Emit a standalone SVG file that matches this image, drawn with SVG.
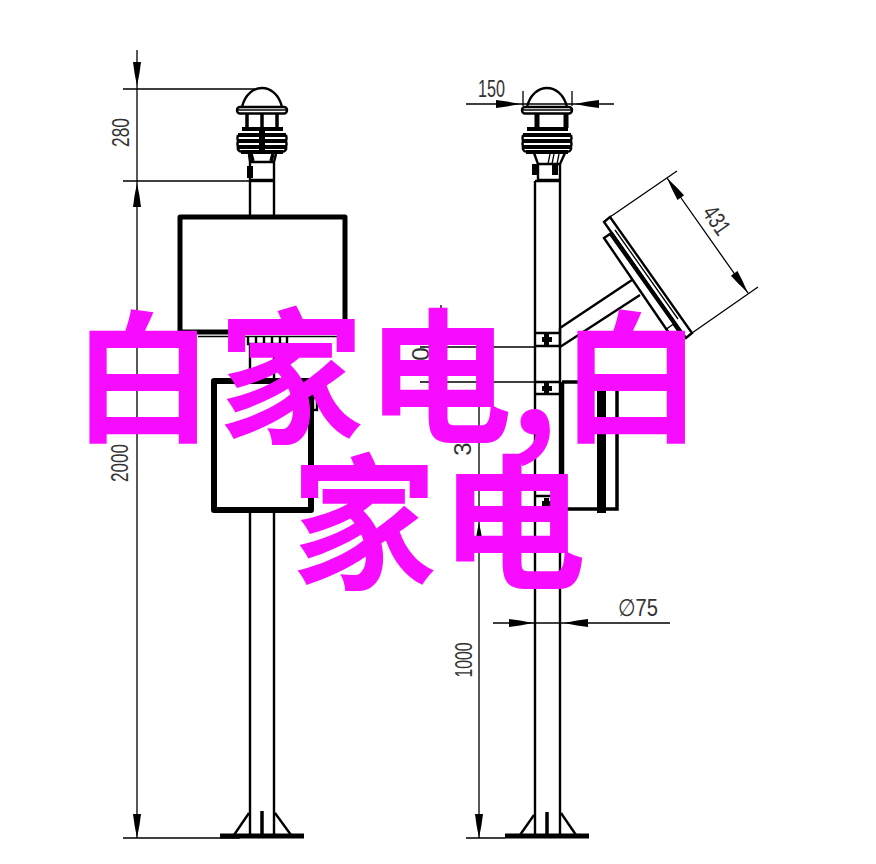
<svg xmlns="http://www.w3.org/2000/svg" width="876" height="864" viewBox="0 0 876 864">
<style>
.t{fill:none;stroke:#000;stroke-width:1.3}
.m{fill:none;stroke:#000;stroke-width:2.4}
.h{fill:none;stroke:#000;stroke-width:5;stroke-linejoin:round}
.b{fill:none;stroke:#000;stroke-width:3.5}
.dim{font-family:"Liberation Sans",sans-serif;font-size:24px;fill:#333;font-weight:400}
.big{font-family:"Noto Sans CJK SC",sans-serif;font-size:146px;font-weight:700;fill:#f80cff}
.w{font-size:142px}
</style>
<defs>
<path id="a" d="M0,0L-13,-2.5L-24,-4L-24,4L-13,2.5Z" fill="#000"/>
<g id="dome">
<path class="m" d="M-20,19C-17,6-8,0 0,0C8,0 17,6 20,19" fill="#fff"/>
<rect class="m" x="-25" y="19" width="50" height="6.5" rx="3" fill="#fff"/>
<path class="t" d="M-24,22H24"/>
</g>
<g id="louver">
<path d="M-20,41H21M-24,47H24M-24,53H24M-24,59H24M-21,64H21" fill="none" stroke="#000" stroke-width="4"/>
<path class="m" d="M-24,47Q-25,50-24,53Q-25,56-24,59Q-25,62-21,64M24,47Q25,50 24,53Q25,56 24,59Q25,62 21,64"/>
</g>
</defs>
<g id="connectors">
<path class="t" d="M137,50V838M123,89H255M123,181H250M123,838H240"/>
<path class="t" d="M466,104H614M523,91V106M572,91V106"/>
<path class="t" d="M441,305V382M420,347H535M420,382H535M479,382V838M466,838H505M493,623H670"/>
<path class="t" d="M457,427H468"/>
<path class="t" d="M610,217L677,171M692,333L758,287M667,178L748,293"/>
<use href="#a" transform="translate(137,86) rotate(90)"/>
<use href="#a" transform="translate(137,183) rotate(-90)"/>
<use href="#a" transform="translate(137,838) rotate(90)"/>
<use href="#a" transform="translate(520,104)"/>
<use href="#a" transform="translate(575,104) rotate(180)"/>
<use href="#a" transform="translate(479,522) rotate(-90)"/>
<use href="#a" transform="translate(479,838) rotate(90)"/>
<use href="#a" transform="translate(533,623)"/>
<use href="#a" transform="translate(564,623) rotate(180)"/>
<use href="#a" transform="translate(667,178) rotate(234.9)"/>
<use href="#a" transform="translate(748,293) rotate(54.9)"/>
</g>
<g id="left-pole">
<path class="m" d="M250,181V217M274,181V217M250,345V380M274,345V380M250,510V835M274,510V835"/>
<path class="m" d="M250,181H274"/>
<path d="M220,836H304" fill="none" stroke="#000" stroke-width="5"/>
<path class="m" d="M234,835L249,813M291,835L275,813"/>
<path class="b" d="M262,811V835"/>
</g>
<g id="left-sensor" transform="translate(262,88)">
<use href="#dome"/>
<path class="b" d="M-15,26V40M0,26V40M15,26V40"/>
<use href="#louver"/>
<path d="M-3,40H3V65H-3Z" fill="#000"/>
<path class="m" d="M-13,66L-12,74H12L14,66M-12,74V92H12V74"/>
<path class="b" d="M-11,66L-9,73M11,66L9,73"/>
<rect x="-15" y="78" width="6" height="12" fill="#000"/>
</g>
<g id="left-box-upper">
<path class="h" d="M180,332V217H345V332H180"/>
<path class="t" d="M198,336.500H340"/>
<path class="m" d="M248,337V344H287V337M256,337V344M264,337V344M272,337V344M280,337V344"/>
</g>
<g id="left-box-lower">
<rect class="h" x="214" y="381" width="97" height="129" style="stroke-width:6"/>
<rect class="m" x="313" y="398" width="4" height="12"/>
</g>
<g id="right-pole">
<path class="m" d="M535,181V835M560,181V835M535,181H560"/>
<path class="m" d="M535,333H560M535,346H560M535,382H560M535,394H560M535,496H560M535,509H560"/>
<path d="M544,334H549V337H552V342H549V346H544V342H542V337H544Z" fill="#000"/>
<path d="M544,383H549V386H552V391H549V394H544V391H542V386H544Z" fill="#000"/>
<path d="M544,498H549V501H552V506H549V509H544V506H542V501H544Z" fill="#000"/>
<path d="M505,836H589" fill="none" stroke="#000" stroke-width="5"/>
<path class="m" d="M520,835L534,815M576,835L561,813"/>
<path class="b" d="M547,812V835"/>
</g>
<g id="right-sensor" transform="translate(547,88)">
<use href="#dome"/>
<path d="M-10,26V40M19,26V40" fill="none" stroke="#000" stroke-width="5"/>
<use href="#louver"/>
<path class="m" d="M-13,65L-9,76V92H13V76L18,65M-9,76H13"/>
<path class="t" d="M3,66L1,76M7,66L5,76M12,66L10,76"/>
<rect x="-15" y="76" width="6" height="11" fill="#000"/>
<rect x="5" y="76" width="6" height="11" fill="#000"/>
</g>
<g id="solar-panel">
<path class="m" d="M610,217L692,333L686,338L604,222Z"/>
<path class="m" d="M604,238L610,234L679,331L671,336Z"/>
<path class="t" d="M612,232L675,322M615,230L678,319"/>
<rect class="t" x="668" y="326" width="8" height="8" transform="rotate(-35 672 330)"/>
<path class="m" d="M560,328L632,280M560,347L640,295M560,328V347"/>
</g>
<g id="right-box">
<path d="M562,382V510" fill="none" stroke="#000" stroke-width="4.500"/>
<path class="b" d="M562,382H617"/>
<path class="b" d="M617,382V509H562"/>
<rect x="597" y="388" width="9" height="125" fill="#000"/>
</g>
<g id="labels">
<text class="dim" text-anchor="middle" textLength="29" lengthAdjust="spacingAndGlyphs" transform="translate(129,132.500) rotate(-90)">280</text>
<text class="dim" text-anchor="middle" textLength="38" lengthAdjust="spacingAndGlyphs" transform="translate(128,463) rotate(-90)">2000</text>
<text class="dim" text-anchor="middle" textLength="35" lengthAdjust="spacingAndGlyphs" transform="translate(472,660) rotate(-90)">1000</text>
<text class="dim" x="478" y="97" textLength="27" lengthAdjust="spacingAndGlyphs">150</text>
<text class="dim" x="618" y="616" textLength="40" lengthAdjust="spacingAndGlyphs">∅75</text>
<text class="dim" text-anchor="middle" textLength="30" lengthAdjust="spacingAndGlyphs" transform="translate(710,225) rotate(55)">431</text>
<text class="dim" text-anchor="middle" transform="translate(429,354) rotate(-90)">0</text>
<text class="dim" text-anchor="middle" transform="translate(471,449) rotate(-90)">3</text>
</g>
<g id="overlay">
<text class="big" y="431"><tspan class="w" x="72">白</tspan><tspan x="218">家</tspan><tspan x="366">电</tspan><tspan x="510" dy="4">,</tspan><tspan class="w" x="560" dy="-4">白</tspan></text>
<text class="big" y="577"><tspan x="291">家</tspan><tspan x="440">电</tspan></text>
</g>
</svg>
